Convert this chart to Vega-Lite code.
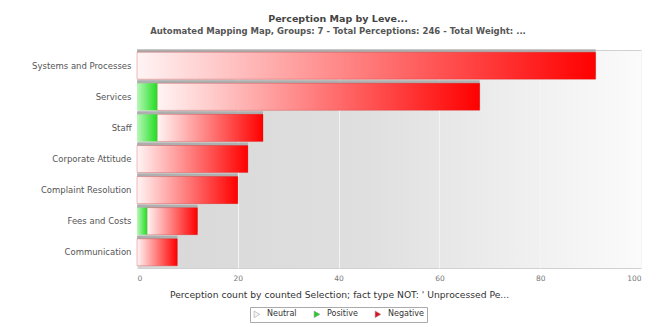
{
  "$schema": "https://vega.github.io/schema/vega-lite/v6.json",
  "width": 504,
  "height": 218,
  "autosize": {"type": "none"},
  "padding": {"left": 137, "top": 50, "right": 19, "bottom": 59},
  "background": "#ffffff",
  "config": {
    "font": "DejaVu Sans",
    "view": {
      "stroke": "#d0d0d0",
      "strokeWidth": 1,
      "fill": {"gradient": "linear", "x1": 0, "y1": 0, "x2": 1, "y2": 0,
        "stops": [{"offset": 0, "color": "#d8d8d8"}, {"offset": 0.45, "color": "#dfdfdf"}, {"offset": 1, "color": "#fbfbfb"}]}
    }
  },
  "title": {
    "text": "Perception Map by Leve...",
    "subtitle": "Automated Mapping Map, Groups: 7 - Total Perceptions: 246 - Total Weight: ...",
    "anchor": "middle",
    "frame": "group",
    "dx": -51,
    "offset": 14,
    "font": "DejaVu Sans",
    "fontSize": 9.5,
    "fontWeight": "bold",
    "color": "#444444",
    "subtitleFont": "DejaVu Sans",
    "subtitleFontSize": 8.5,
    "subtitleFontWeight": "bold",
    "subtitleColor": "#555555",
    "subtitlePadding": 3
  },
  "data": {
    "values": [
      {"category": "Systems and Processes", "type": "Negative", "order": 2, "count": 91},
      {"category": "Services", "type": "Positive", "order": 1, "count": 4},
      {"category": "Services", "type": "Negative", "order": 2, "count": 64},
      {"category": "Staff", "type": "Positive", "order": 1, "count": 4},
      {"category": "Staff", "type": "Negative", "order": 2, "count": 21},
      {"category": "Corporate Attitude", "type": "Negative", "order": 2, "count": 22},
      {"category": "Complaint Resolution", "type": "Negative", "order": 2, "count": 20},
      {"category": "Fees and Costs", "type": "Positive", "order": 1, "count": 2},
      {"category": "Fees and Costs", "type": "Negative", "order": 2, "count": 10},
      {"category": "Communication", "type": "Negative", "order": 2, "count": 8}
    ]
  },
  "transform": [
    {"stack": "count", "groupby": ["category"], "sort": [{"field": "order", "order": "ascending"}], "as": ["x0", "x1"]}
  ],
  "encoding": {
    "y": {
      "field": "category",
      "type": "nominal",
      "sort": ["Systems and Processes", "Services", "Staff", "Corporate Attitude", "Complaint Resolution", "Fees and Costs", "Communication"],
      "scale": {"paddingInner": 0.13, "paddingOuter": 0.07},
      "axis": {"title": null, "domain": false, "ticks": false, "labelFontSize": 8.5, "labelColor": "#555555", "labelPadding": 6, "labelLimit": 200}
    },
    "x": {
      "field": "x0",
      "type": "quantitative",
      "scale": {"domain": [0, 100]},
      "axis": {
        "title": "Perception count by counted Selection; fact type NOT: ' Unprocessed Pe...",
        "values": [0, 20, 40, 60, 80, 100],
        "grid": true,
        "gridColor": "#f4f4f4",
        "gridWidth": 1,
        "domain": false,
        "ticks": false,
        "labelFontSize": 7.5,
        "labelColor": "#777777",
        "labelPadding": 6,
        "titleFontSize": 9.2,
        "titleFontWeight": "normal",
        "titleColor": "#333333",
        "titleX": 202,
        "titleY": 26,
        "titleAlign": "center",
        "titleBaseline": "middle"
      }
    },
    "x2": {"field": "x1"}
  },
  "layer": [
    {
      "mark": {"type": "bar", "yOffset": -3, "color": "#a4a4a4", "opacity": 0.8}
    },
    {
      "transform": [{"filter": "datum.type === 'Negative'"}],
      "mark": {"type": "bar", "stroke": "#cc0000", "strokeWidth": 0.5, "strokeOpacity": 0.5, "color": {"gradient": "linear", "x1": 0, "y1": 0, "x2": 1, "y2": 0,
        "stops": [{"offset": 0, "color": "#fff4f4"}, {"offset": 1, "color": "#ff0000"}]}}
    },
    {
      "transform": [{"filter": "datum.type === 'Positive'"}],
      "mark": {"type": "bar", "color": {"gradient": "linear", "x1": 0, "y1": 0, "x2": 1, "y2": 0,
        "stops": [{"offset": 0, "color": "#b8f8b8"}, {"offset": 1, "color": "#22dd22"}]}}
    },
    {
      "mark": {"type": "bar", "opacity": 0},
      "encoding": {
        "color": {
          "field": "type",
          "type": "nominal",
          "scale": {"domain": ["Neutral", "Positive", "Negative"], "range": ["#f4f4f4", "#22cc22", "#dd1122"]},
          "legend": {
            "orient": "none",
            "legendX": 113,
            "legendY": 257,
            "direction": "horizontal",
            "title": null,
            "fillColor": "#ffffff",
            "strokeColor": "#aaaaaa",
            "padding": 3,
            "labelFontSize": 8,
            "labelColor": "#333333",
            "symbolType": "triangle-right",
            "symbolSize": 45,
            "symbolOpacity": 1,
            "symbolStrokeColor": "#999999",
            "symbolStrokeWidth": 0.5,
            "columnPadding": 16,
            "labelOffset": 6,
            "encode": {"symbols": {"update": {"opacity": {"value": 1}, "fillOpacity": {"value": 1}}}}
          }
        }
      }
    }
  ]
}
